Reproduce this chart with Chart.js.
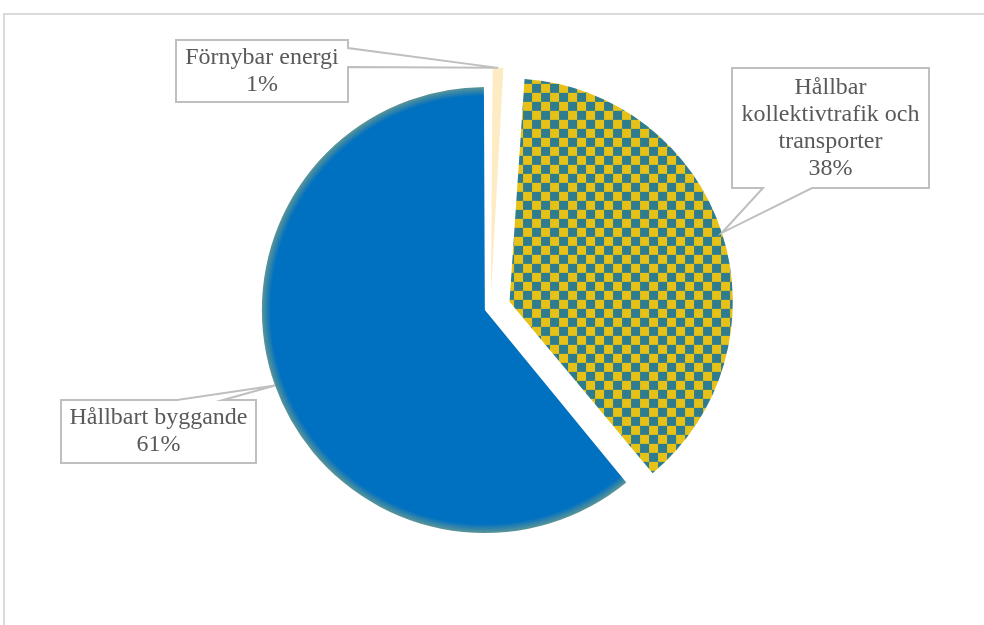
<!DOCTYPE html>
<html lang="sv">
<head>
<meta charset="UTF-8">
<title>Fördelning per område</title>
<script src="https://cdn.jsdelivr.net/npm/chart.js"></script>
<style>
  body { margin: 0; background: #fff; }
  #wrap { position: relative; width: 984px; height: 625px; overflow: hidden; }
  #frame { position: absolute; left: 3px; top: 13px; width: 1100px; height: 700px; border: 2px solid #dadada; }
  #chart { position: absolute; left: 0; top: 0; }
</style>
</head>
<body>
<div id="wrap">
  <div id="frame"></div>
  <canvas id="chart" width="984" height="625"></canvas>
</div>
<script>
// data
const categories = ['Förnybar energi', 'Hållbar kollektivtrafik och transporter', 'Hållbart byggande'];
const shares = [1, 38, 61];
const labelLines = [['Förnybar energi'], ['Hållbar', 'kollektivtrafik och', 'transporter'], ['Hållbart byggande']];

// looks
const RADIUS = 217;
const explode = [48, 80, 24];
const BLUE = '#0070c0';
const CREAM = '#fdebc4';
const TEXT = '#595959';
const LINE = '#bfbfbf';

// callout boxes (left, top, width, height) and where the pointer leaves the box
const boxes = [
    { x: 176, y: 40, w: 172, h: 62, side: 'right', a: 48, b: 67 },
    { x: 732, y: 68, w: 197, h: 120, side: 'bottom', a: 812, b: 763 },
    { x: 61, y: 400, w: 195, h: 63, side: 'top', a: 177, b: 223 }
];

// checkered fill for the middle slice
const tile = document.createElement('canvas');
tile.width = 18; tile.height = 18;
const tctx = tile.getContext('2d');
tctx.fillStyle = '#2f7c8e';
tctx.fillRect(0, 0, 18, 18);
tctx.fillStyle = '#e6c117';
tctx.fillRect(0, 0, 9, 9);
tctx.fillRect(9, 9, 9, 9);
const checker = tctx.createPattern(tile, 'repeat');

function sliceColor(c) {
    const i = c.dataIndex;
    if (i === 0) return CREAM;
    if (i === 1) return checker;
    const area = c.chart.chartArea;
    if (!area) return BLUE;
    const cx = (area.left + area.right) / 2;
    const cy = (area.top + area.bottom) / 2;
    const r = RADIUS + explode[2] / 4;
    const g = c.chart.ctx.createRadialGradient(cx, cy, 0, cx, cy, r);
    g.addColorStop(0, BLUE);
    g.addColorStop(0.96, BLUE);
    g.addColorStop(1, '#5d9596');
    return g;
}

// outer edge point of a slice at its middle angle, same maths as the arc draw
function edgePoint(arc, off) {
    const mid = (arc.startAngle + arc.endAngle) / 2;
    const t = off / 4;
    const fix = 1 - Math.sin(Math.min(Math.PI, arc.circumference));
    const r = arc.outerRadius + t * fix;
    return { x: arc.x + Math.cos(mid) * (t + r), y: arc.y + Math.sin(mid) * (t + r) };
}

const callouts = {
    id: 'callouts',
    afterDatasetsDraw(chart) {
        const ctx = chart.ctx;
        const arcs = chart.getDatasetMeta(0).data;
        ctx.save();
        ctx.lineWidth = 2;
        ctx.strokeStyle = LINE;
        ctx.fillStyle = '#fff';
        boxes.forEach((b, i) => {
            const tip = edgePoint(arcs[i], explode[i]);
            const r = b.x + b.w, btm = b.y + b.h;
            ctx.beginPath();
            ctx.moveTo(b.x, b.y);
            if (b.side === 'top') {
                ctx.lineTo(b.a, b.y); ctx.lineTo(tip.x, tip.y); ctx.lineTo(b.b, b.y);
            }
            ctx.lineTo(r, b.y);
            if (b.side === 'right') {
                ctx.lineTo(r, b.a); ctx.lineTo(tip.x, tip.y); ctx.lineTo(r, b.b);
            }
            ctx.lineTo(r, btm);
            if (b.side === 'bottom') {
                ctx.lineTo(b.a, btm); ctx.lineTo(tip.x, tip.y); ctx.lineTo(b.b, btm);
            }
            ctx.lineTo(b.x, btm);
            ctx.closePath();
            ctx.fill();
            ctx.stroke();
        });
        ctx.fillStyle = TEXT;
        ctx.font = '24px "Liberation Serif", "Times New Roman", serif';
        ctx.textAlign = 'center';
        ctx.textBaseline = 'middle';
        boxes.forEach((b, i) => {
            const lines = labelLines[i].concat([shares[i] + '%']);
            const lh = 27;
            const cx = b.x + b.w / 2;
            const y0 = b.y + b.h / 2 - (lines.length - 1) * lh / 2;
            lines.forEach((s, k) => ctx.fillText(s, cx, y0 + k * lh));
        });
        ctx.restore();
    }
};

new Chart(document.getElementById('chart'), {
    type: 'pie',
    data: {
        labels: categories,
        datasets: [{
            data: shares,
            backgroundColor: sliceColor,
            borderWidth: 0,
            offset: explode,
            radius: RADIUS
        }]
    },
    options: {
        responsive: false,
        animation: false,
        events: [],
        layout: { padding: { left: 0, right: 3, top: 0, bottom: 9 } },
        plugins: {
            legend: { display: false },
            tooltip: { enabled: false }
        }
    },
    plugins: [callouts]
});
</script>
</body>
</html>
